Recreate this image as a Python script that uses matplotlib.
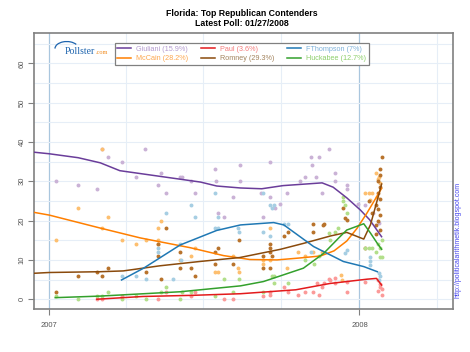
import numpy as np
import matplotlib
matplotlib.use("Agg")
import matplotlib.pyplot as plt
import matplotlib.dates as mdates
from matplotlib.patches import Arc

plt.rcParams['font.family'] = ['Liberation Sans', 'DejaVu Sans']

# days counted from 2007-01-01
candidates = ['Giuliani', 'McCain', 'Paul', 'Romney', 'FThompson', 'Huckabee']
latest = ['15.9%', '28.2%', '3.6%', '29.3%', '7%', '12.7%']

line_col = {'Giuliani': '#6A3D9A', 'McCain': '#FF7F00', 'Paul': '#E31A1C',
            'Romney': '#8A4A0C', 'FThompson': '#1F78B4', 'Huckabee': '#33A02C'}
dot_col = {'Giuliani': '#CAB2D6', 'McCain': '#FDBF6F', 'Paul': '#FB9A99',
           'Romney': '#B8732C', 'FThompson': '#A6CEE3', 'Huckabee': '#B2DF8A'}
txt_col = {'Giuliani': '#B49BCF', 'McCain': '#FDA74F', 'Paul': '#F47C7C',
           'Romney': '#A3845E', 'FThompson': '#7FB2DA', 'Huckabee': '#8DCF6A'}

# trend estimates
trend_days = {
    'Giuliani': [-18, 0, 34, 60, 83, 119, 178, 197, 225, 250, 275, 321, 334, 350, 366, 377, 391],
    'McCain': [-18, 0, 60, 107, 166, 205, 236, 268, 295, 319, 335, 350, 362, 374, 385, 391],
    'Paul': [56, 110, 170, 225, 290, 330, 374, 385, 391],
    'Romney': [-18, 0, 60, 87, 130, 177, 224, 272, 299, 331, 350, 370, 378, 385, 391],
    'FThompson': [85, 111, 154, 197, 225, 264, 276, 311, 346, 370, 386],
    'Huckabee': [7, 60, 154, 225, 252, 299, 323, 342, 350, 370, 378, 386, 391],
}
trend_vals = {
    'Giuliani': [37.4, 37.0, 36.0, 34.7, 32.7, 31.6, 29.8, 28.8, 28.3, 28.1, 28.9, 29.6, 28.5, 25.8, 22.7, 20.2, 15.9],
    'McCain': [22.1, 21.4, 18.1, 15.6, 13.1, 11.1, 10.1, 10.0, 10.5, 11.0, 12.3, 14.8, 18.0, 22.0, 26.0, 28.2],
    'Paul': [0.0, 0.7, 1.0, 1.4, 2.4, 4.0, 5.1, 5.3, 3.6],
    'Romney': [6.6, 6.8, 7.0, 7.2, 8.5, 9.6, 10.6, 12.7, 14.2, 16.1, 17.0, 15.3, 19.0, 24.5, 29.3],
    'FThompson': [4.9, 7.9, 13.8, 17.5, 18.9, 19.5, 18.9, 13.4, 9.6, 8.3, 7.0],
    'Huckabee': [0.4, 0.8, 1.9, 3.4, 4.5, 7.9, 11.7, 15.9, 17.6, 19.2, 16.8, 14.2, 12.7],
}

# individual polls
poll_days = {
    'Giuliani': [7.5, 34, 56.5, 62, 69, 85, 102, 113, 128, 132, 137, 154, 156, 166.5, 195, 224,
                 260, 196, 224, 171.6, 216.7, 249, 260, 280, 199, 206, 251.7, 294.5, 301, 308,
                 317, 309, 314, 321, 329, 336.5, 336.5, 350, 350, 372, 381, 387.5, 363, 271, 265],
    'McCain': [7.5, 34, 62, 69, 62.4, 85, 102, 113.5, 128, 132, 128, 128, 166.5, 154, 171.6,
               195, 199, 216.7, 222.6, 223.8, 251.4, 251.4, 260, 260, 280, 293, 301, 310, 321,
               343, 345, 372, 376, 380, 377.7, 385, 387, 389, 388, 386],
    'Paul': [56.5, 62.4, 85, 128, 137, 166.5, 171.6, 206, 216.7, 251.4, 260, 275.6, 280.3, 301,
             309.8, 315, 322.7, 320.8, 328.6, 336.5, 336.5, 350, 372, 387, 389, 387, 391, 389,
             391, 260, 293, 317, 330, 350],
    'Romney': [7.5, 34, 56.5, 62.4, 69, 113.5, 128, 137, 128, 132, 154, 154, 166.5, 195, 199,
               171.6, 195, 216.7, 223.8, 251.4, 260, 260, 260, 262, 251.4, 260, 275.6, 280.3,
               309.8, 309.8, 322.7, 346, 348, 350, 322, 371, 391, 389, 389, 387, 389, 387, 389,
               385, 387, 389, 387, 385, 389, 385, 380, 376],
    'FThompson': [85, 102, 113.5, 128, 137, 154, 155, 166.5, 171.6, 195, 199, 195, 199, 223.8,
                  222.6, 252, 260, 264.7, 262, 251.4, 260, 275.6, 280.3, 308, 348, 350, 377.7,
                  377.7, 377.7, 387.5, 389.5, 387.5, 128, 145],
    'Huckabee': [7.5, 34, 56.5, 62.4, 69, 85, 102, 113.5, 132, 137, 154, 156, 166.5, 195, 206,
                 216.7, 223.8, 251.4, 262, 264.7, 264.7, 280.3, 301, 311, 316.8, 328.6, 346, 346,
                 348, 350, 372, 376, 380, 389, 389, 391, 385, 391, 387, 330, 336, 340],
}
poll_vals = {
    'Giuliani': [30.1, 29, 28.1, 38.1, 36.1, 35, 31.1, 38.1, 29, 32.1, 27.1, 31.1, 31.1, 30.1, 33.1, 34.1,
                 35, 30.1, 30.1, 27.1, 26.1, 27.1, 26.1, 27.1, 22, 21, 21, 30.1, 31.2, 36.1,
                 36.1, 34.1, 31.2, 27.1, 38.2, 32.1, 30.1, 29.1, 28, 24, 21.9, 19.3, 24.2, 24.2, 23.2],
    'McCain': [15, 23.1, 38.1, 21, 18.1, 15, 14, 15, 18.1, 20, 15, 14, 11, 10, 13,
               7, 7, 11.1, 8, 7, 10, 9, 10, 18.1, 8, 12.1, 11.1, 12.1, 12.1,
               6.2, 4.9, 27, 27, 27, 25.3, 32, 30.5, 29.6, 31, 26.1],
    'Paul': [0, 0, 0.9, 0, 1.9, 0.9, 1.9, 0, 0, 0.9, 1.9, 3, 1.9, 1.9,
             1.9, 4.1, 4.1, 3, 5.1, 5.3, 4.1, 1.9, 4.5, 5, 3, 2, 1, 4,
             2.5, 1.1, 1.1, 1.1, 4.9, 4.5],
    'Romney': [1.9, 6, 7, 6, 8, 7, 11.1, 18.1, 14, 5.1, 12.1, 8, 8, 12.1, 13,
               6, 9, 9, 15.1, 11.1, 14, 13, 12.1, 11.1, 8, 8, 16.1, 17,
               19.1, 17.2, 19.1, 23.2, 20.7, 20.2, 18.9, 13, 36.1, 33, 31.5, 30, 28.5, 27, 25.5,
               24, 23, 21.5, 20, 19, 17.5, 16.5, 22, 25],
    'FThompson': [6, 6, 5.1, 13, 22, 14, 10, 24, 21, 27.1, 21, 18.1, 18.1, 17,
                  18.1, 27.1, 24, 24, 23.2, 17, 16.1, 19.1, 19.1, 12.1, 11.7, 12.5, 10.8,
                  9.6, 8.7, 6.6, 5.8, 4.9, 11.9, 5.1],
    'Huckabee': [0.9, 0, 0.9, 0.9, 1.9, 0, 0.9, 0, 1.9, 3, 0, 1.9, 1.9, 0.9, 5.1,
                 1.9, 5.1, 1.9, 6, 6, 4.1, 4.1, 10, 9, 11.1, 16.8, 26.1, 25.1,
                 24, 21.9, 13, 13, 13, 13, 10.8, 10.8, 12, 15, 14, 15, 17, 18],
}

base = mdates.date2num(np.datetime64('2007-01-01'))

fig = plt.figure(figsize=(4.7, 3.52), dpi=100)
ax = fig.add_axes([0.0723, 0.122, 0.8915, 0.784])

for c in candidates:
    ax.scatter(base + np.array(poll_days[c]), poll_vals[c], s=8, color=dot_col[c],
               linewidths=0, zorder=2)
handles = []
for c in candidates:
    h, = ax.plot(base + np.array(trend_days[c]), trend_vals[c], color=line_col[c], lw=1.1, zorder=3)
    handles.append(h)

ax.set_xlim(mdates.date2num(np.datetime64('2006-12-14')), mdates.date2num(np.datetime64('2008-04-20')))
ax.set_ylim(-2.5, 67.7)

ax.xaxis.set_major_locator(mdates.YearLocator())
ax.xaxis.set_major_formatter(mdates.DateFormatter('%Y'))
ax.xaxis.set_minor_locator(mdates.MonthLocator(bymonth=[4, 7, 10]))
ax.set_yticks(range(0, 61, 10))
ax.set_yticks(range(5, 66, 10), minor=True)
ax.grid(True, which='minor', color='#E6EEF7', lw=0.8, zorder=0)
ax.grid(True, which='major', axis='y', color='#E6EEF7', lw=0.8, zorder=0)
ax.grid(True, which='major', axis='x', color='#A9C6DE', lw=0.9, zorder=0)
ax.set_axisbelow(True)
ax.tick_params(which='minor', length=0)
ax.tick_params(which='major', length=4, width=0.8, color='#808080', labelsize=5.5,
               labelcolor='#555555', pad=2)
ax.tick_params(axis='x', pad=5)
for t in ax.get_yticklabels():
    t.set_rotation(90)
    t.set_va('center')
for s in ax.spines.values():
    s.set_color('#808080')
    s.set_linewidth(1.2)

fig.text(0.515, 0.975, 'Florida: Top Republican Contenders\nLatest Poll: 01/27/2008',
         ha='center', va='top', fontsize=6.3, fontweight='bold', linespacing=1.1)

labels = [f'{c} ({p})' for c, p in zip(candidates, latest)]
leg = fig.legend(handles, labels, ncol=3, loc='upper left', bbox_to_anchor=(0.236, 0.888),
                 fontsize=5.2, frameon=True, fancybox=False, framealpha=1,
                 edgecolor='#808080', handlelength=1.9, handletextpad=0.7,
                 columnspacing=1.8, labelspacing=0.3, borderpad=0.4)
leg.get_frame().set_linewidth(0.9)
for t, c in zip(leg.get_texts(), candidates):
    t.set_color(txt_col[c])

# pollster logo
fig.text(0.138, 0.846, 'Pollster', fontsize=7, family='Liberation Serif', color='#1D64AE',
         ha='left', va='baseline')
fig.text(0.203, 0.846, '.com', fontsize=4.5, family='Liberation Serif', color='#F08A1C',
         ha='left', va='baseline')
fig.add_artist(Arc((0.142, 0.862), 0.05, 0.04, theta1=30, theta2=180, color='#1D64AE',
                   lw=0.9, transform=fig.transFigure))

fig.text(0.975, 0.318, 'http://politicalarithmetik.blogspot.com', rotation=90, fontsize=5,
         color='#4444EE', ha='center', va='center')

fig.savefig('out.png', dpi=100)
